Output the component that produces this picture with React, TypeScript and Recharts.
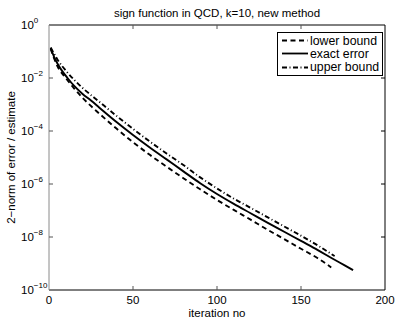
import { LineChart, Line, XAxis, YAxis, Legend } from "recharts";

const FONT = '"Liberation Sans", Arial, Helvetica, sans-serif';

// iteration numbers and values
const lowerX = [1, 5, 10, 15, 20, 30, 40, 50, 60, 70, 80, 90, 100, 110, 120, 130, 140, 150, 160, 168];
const lowerY = [
  0.126, 0.0282, 0.01, 4.0e-3, 1.78e-3, 4.5e-4, 1.26e-4, 3.8e-5, 1.26e-5, 4.5e-6,
  1.66e-6, 6.3e-7, 2.5e-7, 1.05e-7, 4.5e-8, 1.9e-8, 8.3e-9, 3.6e-9, 1.58e-9, 7.1e-10,
];

const exactX = [1, 3, 5, 8, 11, 15, 20, 25, 30, 40, 50, 60, 70, 80, 90, 100, 110, 120, 130, 140, 150, 160, 170, 176, 181];
const exactY = [
  0.135, 0.063, 0.0355, 0.0178, 0.01, 5.0e-3, 2.5e-3, 1.41e-3, 7.6e-4, 2.24e-4,
  7.1e-5, 2.4e-5, 8.5e-6, 3.0e-6, 1.07e-6, 4.2e-7, 1.78e-7, 7.9e-8, 3.5e-8, 1.58e-8,
  7.1e-9, 3.2e-9, 1.38e-9, 8.5e-10, 5.6e-10,
];

const upperX = [1, 5, 10, 15, 20, 30, 40, 50, 60, 70, 80, 90, 100, 110, 120, 130, 140, 150, 160, 170];
const upperY = [
  0.141, 0.05, 0.019, 8.5e-3, 4.2e-3, 1.26e-3, 3.8e-4, 1.2e-4, 4.0e-5, 1.41e-5,
  5.2e-6, 1.78e-6, 6.8e-7, 2.8e-7, 1.26e-7, 5.6e-8, 2.5e-8, 1.12e-8, 4.8e-9, 1.9e-9,
];

const xTicks = [0, 50, 100, 150, 200];
const yTicks = [1e-10, 1e-8, 1e-6, 1e-4, 1e-2, 1];

const zip = (xs: number[], ys: number[]) => xs.map((x, i) => ({ x, y: ys[i] }));

const SERIES = [
  { name: "lower bound", data: zip(lowerX, lowerY), dash: "5 3.5" },
  { name: "exact error", data: zip(exactX, exactY), dash: undefined },
  { name: "upper bound", data: zip(upperX, upperY), dash: "5 2.5 1 2.5" },
];

const expText = (v: number) => {
  const e = Math.round(Math.log10(v));
  return e < 0 ? "\u2212" + Math.abs(e) : String(e);
};

const LeftTick = (props: any) => {
  const { x, y, payload } = props;
  const edge = payload.value === 1 || payload.value === 1e-10;
  return (
    <g>
      {!edge && <line x1={x} x2={x + 4} y1={y} y2={y} stroke="#555" />}
      <text x={x - 28} y={y + 4} fontSize={11.5} fontFamily={FONT} fill="#000">
        10
        <tspan dy={-6} fontSize={8}>
          {expText(payload.value)}
        </tspan>
      </text>
    </g>
  );
};

const RightTick = (props: any) => {
  const { x, y, payload } = props;
  if (payload.value === 1 || payload.value === 1e-10) return <g />;
  return <line x1={x} x2={x - 4} y1={y} y2={y} stroke="#000" />;
};

const BottomTick = (props: any) => {
  const { x, y, payload } = props;
  const edge = payload.value === 0 || payload.value === 200;
  return (
    <g>
      {!edge && <line x1={x} x2={x} y1={y} y2={y - 4} stroke="#555" />}
      <text x={x} y={y + 14} textAnchor="middle" fontSize={11.5} fontFamily={FONT} fill="#000">
        {payload.value}
      </text>
    </g>
  );
};

const TopTick = (props: any) => {
  const { x, y, payload } = props;
  if (payload.value === 0 || payload.value === 200) return <g />;
  return <line x1={x} x2={x} y1={y} y2={y + 4} stroke="#555" />;
};

const LegendBox = () => (
  <div
    style={{
      border: "1px solid #000",
      background: "#fff",
      width: 104,
      padding: "1px 0",
      fontFamily: FONT,
      fontSize: 12.3,
      color: "#000",
    }}
  >
    {SERIES.map((s) => (
      <div key={s.name} style={{ display: "flex", alignItems: "center", height: 13.3 }}>
        <svg width={32} height={13}>
          <line x1={4} x2={30} y1={6.5} y2={6.5} stroke="#000" strokeWidth={1.8} strokeDasharray={s.dash} />
        </svg>
        <span style={{ whiteSpace: "nowrap" }}>{s.name}</span>
      </div>
    ))}
  </div>
);

export default function App() {
  return (
    <div style={{ position: "absolute", left: 0, top: 0, background: "#fff" }}>
      <LineChart width={399} height={322} margin={{ top: 24, right: 13, bottom: 0, left: 0 }}>
        <XAxis
          type="number"
          dataKey="x"
          domain={[0, 200]}
          ticks={xTicks}
          allowDataOverflow
          height={32}
          tickSize={0}
          tickMargin={0}
          tickLine={false}
          tick={<BottomTick />}
          axisLine={{ stroke: "#000" }}
          label={{
            position: "center",
            content: (p: any) => (
              <text
                x={p.viewBox.x + p.viewBox.width / 2}
                y={p.viewBox.y + 27}
                textAnchor="middle"
                fontSize={11.5}
                fontFamily={FONT}
                fill="#000"
              >
                iteration no
              </text>
            ),
          }}
        />
        <XAxis
          xAxisId="top"
          orientation="top"
          type="number"
          dataKey="x"
          domain={[0, 200]}
          ticks={xTicks}
          allowDataOverflow
          height={1}
          tickSize={0}
          tickMargin={0}
          tickLine={false}
          tick={<TopTick />}
          axisLine={{ stroke: "#000" }}
          label={{
            position: "center",
            content: (p: any) => (
              <text
                x={p.viewBox.x + p.viewBox.width / 2}
                y={p.viewBox.y - 7}
                textAnchor="middle"
                fontSize={11.5}
                fontFamily={FONT}
                fill="#000"
              >
                sign function in QCD, k=10, new method
              </text>
            ),
          }}
        />
        <YAxis
          scale="log"
          domain={[1e-10, 1]}
          ticks={yTicks}
          allowDataOverflow
          width={49}
          tickSize={0}
          tickMargin={0}
          tickLine={false}
          tick={<LeftTick />}
          axisLine={{ stroke: "#8a8a8a" }}
          label={{
            position: "center",
            content: (p: any) => {
              const cx = 11;
              const cy = p.viewBox.y + p.viewBox.height / 2;
              return (
                <text
                  x={cx}
                  y={cy}
                  transform={`rotate(-90, ${cx}, ${cy})`}
                  textAnchor="middle"
                  dominantBaseline="central"
                  fontSize={11.5}
                  fontFamily={FONT}
                  fill="#000"
                >
                  2{"\u2212"}norm of error / estimate
                </text>
              );
            },
          }}
        />
        <YAxis
          yAxisId="right"
          orientation="right"
          scale="log"
          domain={[1e-10, 1]}
          ticks={yTicks}
          allowDataOverflow
          width={1}
          tickSize={0}
          tickMargin={0}
          tickLine={false}
          tick={<RightTick />}
          axisLine={{ stroke: "#000" }}
        />
        {/* invisible copy so the top / right frame axes get a scale */}
        <Line
          xAxisId="top"
          yAxisId="right"
          data={SERIES[1].data}
          dataKey="y"
          stroke="none"
          legendType="none"
          dot={false}
          activeDot={false}
          isAnimationActive={false}
        />
        {SERIES.map((s) => (
          <Line
            key={s.name}
            data={s.data}
            dataKey="y"
            name={s.name}
            type="monotone"
            stroke="#000"
            strokeWidth={1.9}
            strokeDasharray={s.dash}
            dot={false}
            activeDot={false}
            isAnimationActive={false}
          />
        ))}
        <Legend
          layout="vertical"
          align="center"
          verticalAlign="middle"
          content={<LegendBox />}
          wrapperStyle={{ position: "absolute", left: 277, top: 32, width: 106, height: 42 }}
        />
      </LineChart>
    </div>
  );
}
